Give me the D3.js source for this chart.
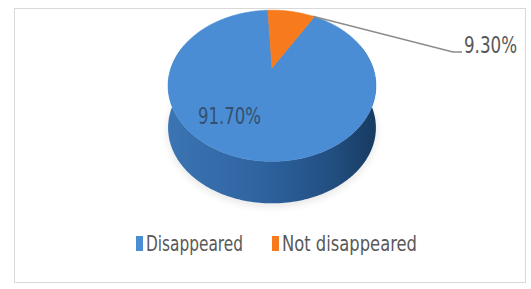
<!DOCTYPE html>
<html>
<head>
<meta charset="utf-8">
<script src="https://cdn.jsdelivr.net/npm/d3@7"></script>
<style>
  body { margin: 0; background: #fff; }
  text { font-family: "Liberation Sans Narrow", "DejaVu Sans Condensed", "Roboto Condensed", sans-serif; }
</style>
</head>
<body>
<script>
// chart data
var categories = ["Disappeared", "Not disappeared"];
var values = [91.7, 9.3];
var valueLabels = ["91.70%", "9.30%"];
var colors = ["#4a8dd4", "#f77a1c"];

var svgWidth = 531;
var svgHeight = 289;

var svg = d3.select("body")
  .append("svg")
  .attr("width", svgWidth)
  .attr("height", svgHeight);

// outer frame
svg.append("rect")
  .attr("x", 14.5).attr("y", 8.5)
  .attr("width", 511).attr("height", 274)
  .attr("fill", "#fff")
  .attr("stroke", "#d9d9d9");

// perspective projection for the top face (angle clockwise from 12 o'clock)
var cx = 272, cy = 68, k = 101;
var tilt = Math.PI / 4, dist = 3.01;
var depthPx = 42;
function project(a, r) {
  if (r === undefined) r = 1;
  var X = r * Math.sin(a), Z = r * Math.cos(a);
  var yc = Z * Math.sin(tilt);
  var zc = Z * Math.cos(tilt);
  var s = dist / (dist + zc);
  return [cx + k * X * s, cy - k * yc * s];
}

// points along the rim; drop > 0 pushes them down to the bottom edge
function arcPoints(a0, a1, drop) {
  var n = Math.max(2, Math.ceil(Math.abs(a1 - a0) / 0.01));
  return d3.range(n + 1).map(function(i) {
    var p = project(a0 + (a1 - a0) * i / n);
    return [p[0], p[1] + (drop || 0)];
  });
}

// orange slice sits just right of 12 o'clock, blue takes the rest
var span = 2 * Math.PI * values[1] / d3.sum(values);
var rot = -0.05;
var pie = d3.pie().sort(null).value(d => d)
  .startAngle(rot + span)
  .endAngle(rot + span + 2 * Math.PI);
var slices = pie(values);

var defs = svg.append("defs");
var sideGrad = defs.append("linearGradient")
  .attr("id", "sideGrad")
  .attr("gradientUnits", "userSpaceOnUse")
  .attr("x1", cx - k).attr("x2", cx + k).attr("y1", 0).attr("y2", 0);
sideGrad.append("stop").attr("offset", "0%").attr("stop-color", "#3b74b2");
sideGrad.append("stop").attr("offset", "45%").attr("stop-color", "#2e63a0");
sideGrad.append("stop").attr("offset", "80%").attr("stop-color", "#224e80");
sideGrad.append("stop").attr("offset", "100%").attr("stop-color", "#183c63");

defs.append("filter").attr("id", "blur")
  .attr("x", "-20%").attr("y", "-50%").attr("width", "140%").attr("height", "200%")
  .append("feGaussianBlur").attr("stdDeviation", 4);

var line = d3.line();

// soft shadow under the pie
svg.append("path")
  .attr("d", line(arcPoints(0, 2 * Math.PI, depthPx + 3)) + "Z")
  .attr("fill", "#000")
  .attr("opacity", 0.10)
  .attr("filter", "url(#blur)");

// side wall (front half is all blue)
var a0 = 70 * Math.PI / 180, a1 = 290 * Math.PI / 180;
var sidePts = arcPoints(a0, a1, 0).concat(arcPoints(a1, a0, depthPx));
svg.append("path")
  .attr("d", line(sidePts) + "Z")
  .attr("fill", "url(#sideGrad)");

// top face slices, apex at the projected centre
var apex = project(0, 0);
svg.selectAll("path.top")
  .data(slices)
  .enter()
  .append("path")
  .attr("class", "top")
  .attr("d", d => line([apex].concat(arcPoints(d.startAngle, d.endAngle, 0))) + "Z")
  .attr("fill", (d, i) => colors[i])
  .attr("stroke", (d, i) => colors[i])
  .attr("stroke-width", 0.6);

// data labels
svg.append("text")
  .attr("x", 198).attr("y", 124)
  .attr("font-size", 23)
  .attr("fill", "#34506e")
  .attr("textLength", 63)
  .attr("lengthAdjust", "spacingAndGlyphs")
  .text(valueLabels[0]);

var lp = project(slices[1].endAngle - 0.02);
svg.append("path")
  .attr("d", line([lp, [453, 52], [462, 52]]))
  .attr("fill", "none")
  .attr("stroke", "#8c8c8c")
  .attr("stroke-width", 1.5);

svg.append("text")
  .attr("x", 464).attr("y", 53)
  .attr("font-size", 23)
  .attr("fill", "#595959")
  .attr("textLength", 53)
  .attr("lengthAdjust", "spacingAndGlyphs")
  .text(valueLabels[1]);

// legend
var legendX = [136, 272];
var legendW = [97, 135];
var legend = svg.selectAll("g.legend")
  .data(categories)
  .enter()
  .append("g")
  .attr("class", "legend")
  .attr("transform", (d, i) => `translate(${legendX[i]}, 0)`);

legend.append("rect")
  .attr("x", 0).attr("y", 236)
  .attr("width", 7).attr("height", 15)
  .attr("fill", (d, i) => colors[i]);

legend.append("text")
  .attr("x", 10).attr("y", 251)
  .attr("font-size", 22)
  .attr("fill", "#595959")
  .attr("textLength", (d, i) => legendW[i])
  .attr("lengthAdjust", "spacingAndGlyphs")
  .text(d => d);
</script>
</body>
</html>
